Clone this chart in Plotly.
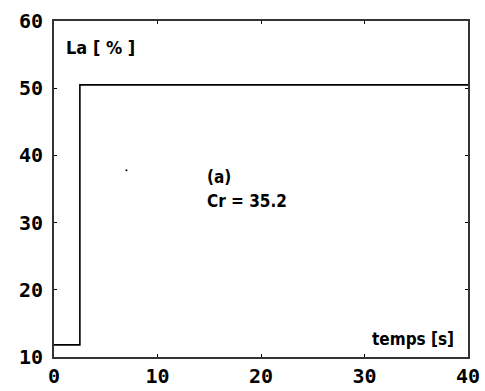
import plotly.graph_objects as go

# Step response data
t = [0, 2.5, 2.5, 40]
la = [11.8, 11.8, 50.5, 50.5]
dot_x = [7]
dot_y = [37.8]
xticks = [0, 10, 20, 30, 40]
yticks = [10, 20, 30, 40, 50, 60]

fig = go.Figure()
fig.add_trace(go.Scatter(x=t, y=la, mode="lines",
                         line=dict(color="#000000", width=1.6), showlegend=False))
fig.add_trace(go.Scatter(x=dot_x, y=dot_y, mode="markers",
                         marker=dict(color="#000000", size=2), showlegend=False))

lab_font = dict(family="DejaVu Sans Condensed", size=17, color="#000000", weight="bold")
fig.add_annotation(x=1.0, y=56.1, text="La [ % ]", showarrow=False, xanchor="left", yanchor="middle",
                   font=dict(family="DejaVu Sans Condensed", size=18, color="#000000", weight="bold"))
fig.add_annotation(x=14.6, y=36.8, text="(a)", showarrow=False, xanchor="left", yanchor="middle", font=lab_font)
fig.add_annotation(x=14.6, y=33.2, text="Cr = 35.2", showarrow=False, xanchor="left", yanchor="middle", font=lab_font)
fig.add_annotation(x=38.8, y=12.7, text="temps [s]", showarrow=False, xanchor="right", yanchor="middle", font=lab_font)

tick_font = dict(family="DejaVu Sans Mono", size=20, color="#000000", weight="bold")
fig.update_xaxes(range=[0, 40], tickvals=xticks, ticktext=[str(v) for v in xticks],
                 ticks="inside", ticklen=3, tickwidth=1, tickcolor="#000000",
                 showline=True, linecolor="#333333", linewidth=2, mirror="ticks",
                 showgrid=False, zeroline=False, tickfont=tick_font,
                 automargin=False, ticklabelstandoff=0)
fig.update_yaxes(range=[10, 60], tickvals=yticks, ticktext=[str(v) for v in yticks],
                 ticks="inside", ticklen=3, tickwidth=1, tickcolor="#000000",
                 showline=True, linecolor="#333333", linewidth=2, mirror="ticks",
                 showgrid=False, zeroline=False, tickfont=tick_font,
                 automargin=False, ticklabelstandoff=5)
fig.update_layout(width=485, height=391, margin=dict(l=54, r=17, t=21, b=34),
                  plot_bgcolor="#ffffff", paper_bgcolor="#ffffff")
fig.write_html("out.html")
